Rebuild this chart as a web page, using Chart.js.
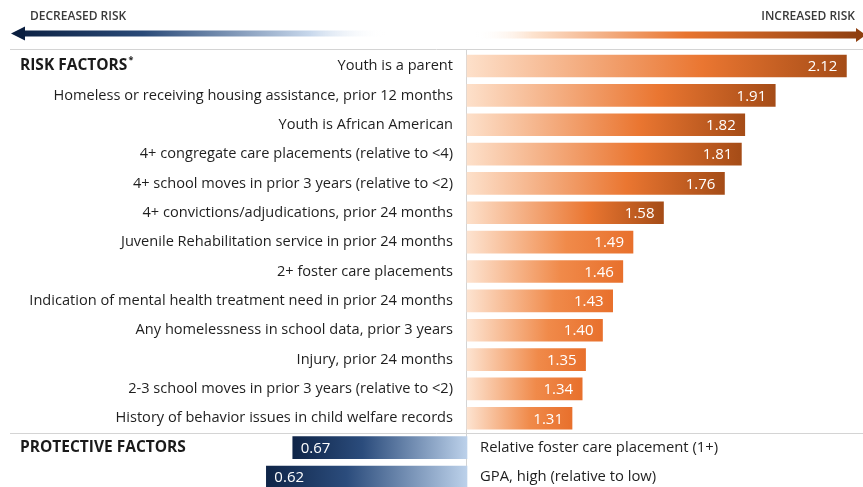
<!DOCTYPE html>
<html>
<head>
<meta charset="utf-8">
<script src="https://cdn.jsdelivr.net/npm/chart.js@4"></script>
<style>
  html, body { margin: 0; padding: 0; background: #ffffff; }
  #wrap { width: 863px; height: 487px; position: relative; }
</style>
</head>
<body>
<div id="wrap"><canvas id="riskChart"></canvas></div>
<script>
// values (odds ratios, baseline = 1)
var riskLabels = [
  'Youth is a parent',
  'Homeless or receiving housing assistance, prior 12 months',
  'Youth is African American',
  '4+ congregate care placements (relative to <4)',
  '4+ school moves in prior 3 years (relative to <2)',
  '4+ convictions/adjudications, prior 24 months',
  'Juvenile Rehabilitation service in prior 24 months',
  '2+ foster care placements',
  'Indication of mental health treatment need in prior 24 months',
  'Any homelessness in school data, prior 3 years',
  'Injury, prior 24 months',
  '2-3 school moves in prior 3 years (relative to <2)',
  'History of behavior issues in child welfare records'
];
var riskValues = [2.12, 1.91, 1.82, 1.81, 1.76, 1.58, 1.49, 1.46, 1.43, 1.40, 1.35, 1.34, 1.31];
var protectiveLabels = ['Relative foster care placement (1+)', 'GPA, high (relative to low)'];
var protectiveValues = [0.67, 0.62];
var baseValue = 1;

var allLabels = riskLabels.concat(protectiveLabels);
var nRisk = riskLabels.length;

var riskData = [];
var protData = [];
for (var i = 0; i < allLabels.length; i++) {
  if (i < nRisk) {
    riskData.push([baseValue, riskValues[i]]);
    protData.push(null);
  } else {
    riskData.push(null);
    protData.push([protectiveValues[i - nRisk], baseValue]);
  }
}

var FONT = '"Open Sans", Lato, sans-serif';

function orangeFill(context) {
  var chart = context.chart;
  if (!chart.chartArea || context.raw == null) return '#ea7430';
  var xs = chart.scales.x;
  var x0 = xs.getPixelForValue(context.raw[0]);
  var x1 = xs.getPixelForValue(context.raw[1]);
  var g = chart.ctx.createLinearGradient(x0, 0, x1, 0);
  if (context.raw[1] >= 1.55) {
    g.addColorStop(0, '#fde0ca');
    g.addColorStop(0.62, '#ea7631');
    g.addColorStop(1, '#a54c17');
  } else {
    g.addColorStop(0, '#fde3d0');
    g.addColorStop(0.6, '#f08a4a');
    g.addColorStop(1, '#e8702c');
  }
  return g;
}

function blueFill(context) {
  var chart = context.chart;
  if (!chart.chartArea || context.raw == null) return '#2c4f80';
  var xs = chart.scales.x2;
  var x0 = xs.getPixelForValue(context.raw[0]);
  var x1 = xs.getPixelForValue(context.raw[1]);
  var g = chart.ctx.createLinearGradient(x0, 0, x1, 0);
  g.addColorStop(0, '#0f2548');
  g.addColorStop(0.4, '#2b4c7c');
  g.addColorStop(1, '#bcd1ea');
  return g;
}

var decorPlugin = {
  id: 'decor',
  beforeDraw: function(chart) {
    var ctx = chart.ctx;
    var ys = chart.scales.y;
    var baseX = chart.scales.x.getPixelForValue(baseValue);
    ctx.save();

    // top arrows
    var gb = ctx.createLinearGradient(12, 0, 385, 0);
    gb.addColorStop(0, '#0b1f40');
    gb.addColorStop(0.35, '#2a4a78');
    gb.addColorStop(0.8, '#c8d8ec');
    gb.addColorStop(1, 'rgba(255,255,255,0)');
    ctx.fillStyle = gb;
    ctx.fillRect(22, 30.5, 365, 6);
    ctx.beginPath();
    ctx.moveTo(11, 33.5);
    ctx.lineTo(25, 26.5);
    ctx.lineTo(25, 40.5);
    ctx.closePath();
    ctx.fillStyle = '#0b1f40';
    ctx.fill();

    var go = ctx.createLinearGradient(475, 0, 858, 0);
    go.addColorStop(0, 'rgba(255,255,255,0)');
    go.addColorStop(0.15, '#fde3cf');
    go.addColorStop(0.55, '#e8742f');
    go.addColorStop(1, '#8f3f10');
    ctx.fillStyle = go;
    ctx.fillRect(475, 31.5, 385, 7);
    ctx.beginPath();
    ctx.moveTo(866, 35);
    ctx.lineTo(856, 28);
    ctx.lineTo(856, 42);
    ctx.closePath();
    ctx.fillStyle = '#8f3f10';
    ctx.fill();

    ctx.font = '600 12px ' + FONT;
    ctx.fillStyle = '#3a3a3a';
    ctx.textBaseline = 'middle';
    ctx.textAlign = 'left';
    ctx.fillText('DECREASED RISK', 30, 17);
    ctx.textAlign = 'right';
    ctx.fillText('INCREASED RISK', 855, 17);

    // rules
    ctx.strokeStyle = '#d4d4d4';
    ctx.lineWidth = 1;
    var divY = (ys.getPixelForValue(nRisk - 1) + ys.getPixelForValue(nRisk)) / 2;
    ctx.beginPath();
    ctx.moveTo(10, 49.5); ctx.lineTo(863, 49.5);
    ctx.moveTo(10, Math.round(divY) + 0.5); ctx.lineTo(863, Math.round(divY) + 0.5);
    ctx.moveTo(Math.round(baseX) - 0.5, 49.5); ctx.lineTo(Math.round(baseX) - 0.5, 487);
    ctx.stroke();

    // section headings
    ctx.fillStyle = '#1a1a1a';
    ctx.textAlign = 'left';
    ctx.font = 'bold 15.5px ' + FONT;
    var y0 = ys.getPixelForValue(0);
    ctx.fillText('RISK FACTORS', 20, y0);
    var w = ctx.measureText('RISK FACTORS').width;
    ctx.font = 'bold 9px ' + FONT;
    ctx.fillText('*', 21 + w, y0 - 6);
    ctx.font = 'bold 15.5px ' + FONT;
    ctx.fillText('PROTECTIVE FACTORS', 20, ys.getPixelForValue(nRisk));

    // protective labels on the right of the baseline
    ctx.font = '14.8px ' + FONT;
    ctx.fillStyle = '#1f1f1f';
    for (var k = 0; k < protectiveLabels.length; k++) {
      ctx.fillText(protectiveLabels[k], baseX + 13, ys.getPixelForValue(nRisk + k));
    }
    ctx.restore();
  },
  afterDatasetsDraw: function(chart) {
    var ctx = chart.ctx;
    var x2 = chart.scales.x2;
    ctx.save();
    ctx.font = '15px ' + FONT;
    ctx.fillStyle = '#ffffff';
    ctx.textBaseline = 'middle';
    chart.getDatasetMeta(0).data.forEach(function(bar, i) {
      if (i >= nRisk) return;
      ctx.textAlign = 'right';
      ctx.fillText(riskValues[i].toFixed(2), bar.x - 9, bar.y + 1);
    });
    chart.getDatasetMeta(1).data.forEach(function(bar, i) {
      if (i < nRisk) return;
      var v = protectiveValues[i - nRisk];
      ctx.textAlign = 'left';
      ctx.fillText(v.toFixed(2), x2.getPixelForValue(v) + 8, bar.y + 1);
    });
    ctx.restore();
  }
};

var config = {
  type: 'bar',
  data: {
    labels: allLabels,
    datasets: [
      {
        label: 'Risk factors',
        data: riskData,
        xAxisID: 'x',
        backgroundColor: orangeFill,
        barThickness: 22,
        grouped: false,
        clip: false
      },
      {
        label: 'Protective factors',
        data: protData,
        xAxisID: 'x2',
        backgroundColor: blueFill,
        barThickness: 22,
        grouped: false,
        clip: false
      }
    ]
  },
  options: {
    indexAxis: 'y',
    responsive: true,
    maintainAspectRatio: false,
    animation: false,
    layout: { padding: { top: 66, bottom: 10, left: 0, right: 0 } },
    plugins: {
      legend: { display: false },
      tooltip: { enabled: false },
      title: { display: false }
    },
    scales: {
      x: { type: 'linear', display: false, min: 1, max: 2.169 },
      x2: { type: 'linear', display: false, min: 1, max: 1.75 },
      y: {
        type: 'category',
        offset: false,
        grid: { display: false, drawTicks: false },
        border: { display: false },
        afterFit: function(scale) {
          scale.width = 467;
          scale.paddingTop = 0;
          scale.paddingBottom = 0;
        },
        ticks: {
          padding: 14,
          color: '#1f1f1f',
          font: { family: FONT, size: 14.6 },
          autoSkip: false,
          callback: function(val, idx) {
            return idx < nRisk ? allLabels[idx] : '';
          }
        }
      }
    }
  },
  plugins: [decorPlugin]
};

new Chart(document.getElementById('riskChart'), config);
</script>
</body>
</html>
